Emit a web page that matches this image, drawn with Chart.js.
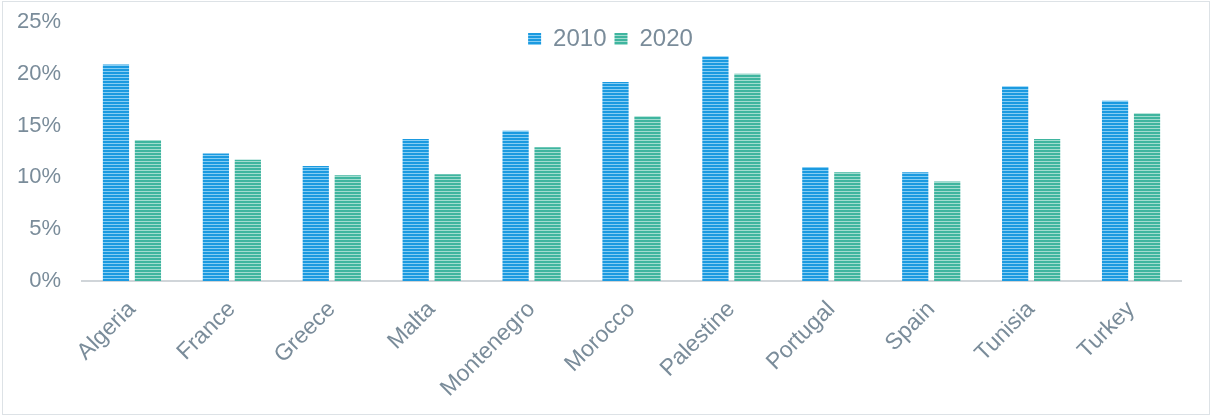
<!DOCTYPE html>
<html>
<head>
<meta charset="utf-8">
<script src="https://cdn.jsdelivr.net/npm/chart.js@4/dist/chart.umd.min.js"></script>
<style>
  html, body { margin: 0; padding: 0; background: #fff; }
  #wrap { position: relative; width: 1212px; height: 418px; }
  #frame { position: absolute; left: 2px; top: 1px; right: 2px; bottom: 3px; border: 1px solid #dde2e6; pointer-events: none; }
</style>
</head>
<body>
<div id="wrap">
  <canvas id="chart" width="1212" height="418"></canvas>
  <div id="frame"></div>
</div>
<script>
const countries = ['Algeria', 'France', 'Greece', 'Malta', 'Montenegro', 'Morocco', 'Palestine', 'Portugal', 'Spain', 'Tunisia', 'Turkey'];
const values2010 = [20.9, 12.3, 11.1, 13.7, 14.5, 19.2, 21.7, 11.0, 10.5, 18.8, 17.4];
const values2020 = [13.6, 11.7, 10.2, 10.3, 12.9, 15.9, 20.0, 10.5, 9.6, 13.7, 16.2];
const yTicks = [0, 5, 10, 15, 20, 25];

const labelColor = '#7a8c9a';
const fontFamily = 'Liberation Sans, Arial, sans-serif';

// horizontal stripe fill like the original bars
function stripes(dark, light) {
    const c = document.createElement('canvas');
    c.width = 4;
    c.height = 3;
    const g = c.getContext('2d');
    g.fillStyle = dark;
    g.fillRect(0, 0, 4, 3);
    g.fillStyle = light;
    g.fillRect(0, 2, 4, 1);
    return g.createPattern(c, 'repeat');
}

// legend sits inside the plot, just below the top tick
const legendInside = {
    id: 'legendInside',
    afterLayout(chart) {
        const lg = chart.legend;
        if (lg) {
            lg.top = 19;
            lg.bottom = 73;
            lg.height = 54;
            lg.left += 20;
            lg.right += 20;
        }
    }
};

const ctx = document.getElementById('chart').getContext('2d');
const blueFill = stripes('#1b9ae0', '#86cdf3');
const greenFill = stripes('#3fb59f', '#a2dccf');

new Chart(ctx, {
    type: 'bar',
    data: {
        labels: countries,
        datasets: [
            { label: '2010', data: values2010, backgroundColor: blueFill, borderWidth: 0 },
            { label: '2020', data: values2020, backgroundColor: greenFill, borderWidth: 0 }
        ]
    },
    plugins: [legendInside],
    options: {
        responsive: false,
        animation: false,
        layout: { padding: { top: 21, right: 31, bottom: 0, left: 0 } },
        datasets: { bar: { barPercentage: 0.82, categoryPercentage: 0.64 } },
        scales: {
            x: {
                grid: { display: false, drawTicks: false },
                border: { display: true, color: '#d0d5d9', width: 2 },
                ticks: {
                    color: labelColor,
                    font: { family: fontFamily, size: 23 },
                    minRotation: 45,
                    maxRotation: 45,
                    padding: 15
                },
                afterFit: (scale) => { scale.height = 137; }
            },
            y: {
                min: 0,
                max: 25,
                // tick length gives the gap to the labels without padding the top
                grid: { display: false, drawTicks: true, tickLength: 21 },
                border: { display: false },
                afterBuildTicks: (scale) => { scale.ticks = yTicks.map(v => ({ value: v })); },
                ticks: {
                    color: labelColor,
                    font: { family: fontFamily, size: 22 },
                    padding: 0,
                    callback: (v) => v + '%'
                },
                afterFit: (scale) => { scale.width = 82; }
            }
        },
        plugins: {
            legend: {
                position: 'top',
                align: 'center',
                maxHeight: 1,
                labels: {
                    color: labelColor,
                    font: { family: fontFamily, size: 24 },
                    boxWidth: 13,
                    boxHeight: 12,
                    padding: 8
                }
            },
            tooltip: { enabled: false }
        }
    }
});
</script>
</body>
</html>
